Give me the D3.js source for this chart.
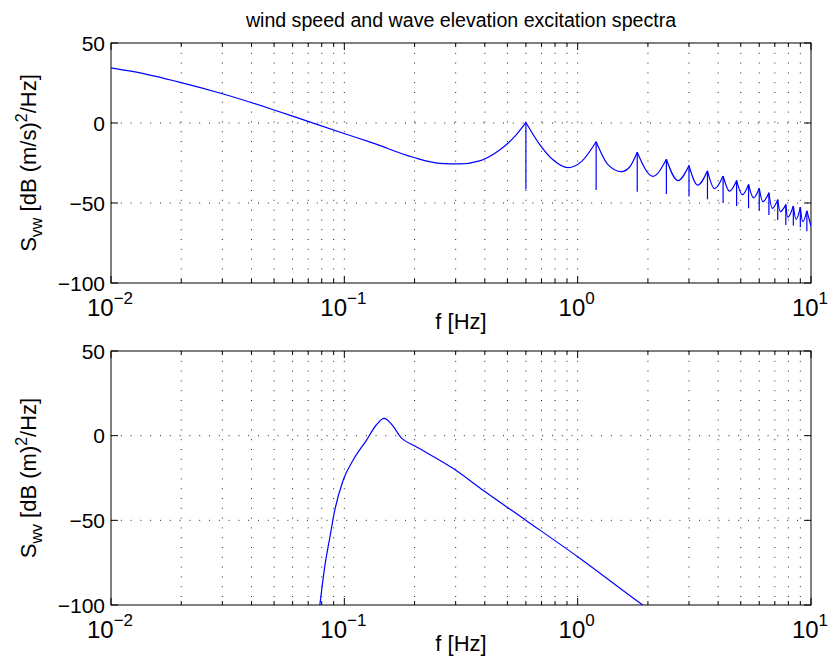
<html>
<head>
    <title>wind speed and wave elevation excitation spectra</title>
    <style>
        body { margin: 0; background: #fff; }
        text { font-family: "Liberation Sans", Arial, Helvetica, sans-serif; fill: #000; }
    </style>
</head>
<body>
    <svg width="829" height="659"></svg>

    <script src="https://cdn.jsdelivr.net/npm/d3@7"></script>
    <script>
        // wind speed spectrum, smooth part (everything that is not a harmonic peak)
        const windFreq = [0.01, 0.0125, 0.0198, 0.0303, 0.0496, 0.0689, 0.099, 0.133, 0.197, 0.257, 0.312, 0.38, 0.463, 0.528,
                          0.688, 0.784, 0.909, 1.04,
                          1.349, 1.539, 1.67,
                          2.10, 2.69, 3.27, 3.86, 4.48, 5.08, 5.67, 6.22, 6.82, 7.38, 7.95, 8.64, 9.22, 10];
        const windDb = [34.5, 32.1, 25.4, 18.1, 8.3, 1.3, -6.4, -12.6, -21.4, -25.2, -25.6, -23.7, -16.9, -9.6,
                        -13.5, -23, -27.9, -24,
                        -26, -30.4, -27.5,
                        -33.3, -36, -38.8, -41, -42.6, -44.8, -46.8, -49.2, -53.3, -55.4, -59, -60.2, -61.7, -64.4];

        // harmonic peaks of the wind spectrum and the one-sample dips under them
        const peakFreq = [0.6, 1.2, 1.8, 2.4, 3.0, 3.6, 4.2, 4.8, 5.4, 6.0, 6.6, 7.2, 7.8, 8.4, 9.0, 9.6];
        const peakDb = [0.3, -11.7, -18.3, -22.7, -26.6, -29.9, -33.1, -36, -38.4, -40.8, -43.6, -47.9, -51, -51.9, -52.6, -54.9];
        const dipDb = [-41.5, -41.9, -42.9, -44.4, -46, -47.7, -50, -51.9, -53.3, -54.9, -57.5, -60.6, -63.7, -64, -65.2, -67.6];

        // wave elevation spectrum
        const waveFreq = [0.072, 0.0785, 0.0825, 0.0867, 0.091, 0.099, 0.109, 0.1245, 0.137, 0.148, 0.159, 0.176, 0.2, 0.292, 0.4, 0.603, 1.0, 1.9, 2.1];
        const waveDb = [-140, -100, -77, -60, -44, -26, -14.5, -2.6, 6.3, 10.2, 6.9, -1.5, -6, -19.3, -33, -50.2, -71.5, -100, -104.3];

        const xTicks = [0.01, 0.1, 1, 10];
        const xTickExp = ["\u22122", "\u22121", "0", "1"];
        const yTicks = [50, 0, -50, -100];

        const svg = d3.select("svg");
        const left = 111, right = 811;

        svg.append("text")
            .attr("x", (left + right) / 2).attr("y", 27)
            .attr("text-anchor", "middle")
            .style("font-size", "19.6px")
            .text("wind speed and wave elevation excitation spectra");

        // minor + major positions for the log grid
        let logGrid = [];
        for (let e = -2; e < 1; e++)
            for (let m = 1; m < 10; m++) logGrid.push(m * Math.pow(10, e));
        logGrid.push(10);

        function makePanel(id, top, bottom, sub, unit) {
            const x = d3.scaleLog().domain([0.01, 10]).range([left, right]);
            const y = d3.scaleLinear().domain([-100, 50]).range([bottom, top]);
            const g = svg.append("g");

            g.append("clipPath").attr("id", "clip" + id)
                .append("rect").attr("x", left).attr("y", top)
                .attr("width", right - left).attr("height", bottom - top);

            // dotted grid
            g.selectAll(".vg").data(logGrid.filter(d => d > 0.01 && d < 10)).enter()
                .append("line")
                .attr("x1", d => x(d)).attr("x2", d => x(d))
                .attr("y1", top).attr("y2", bottom)
                .attr("stroke", "#222").attr("stroke-width", 1)
                .attr("stroke-dasharray", "1,8.8");
            g.selectAll(".hg").data(yTicks.filter(d => d > -100 && d < 50)).enter()
                .append("line")
                .attr("x1", left).attr("x2", right)
                .attr("y1", d => y(d)).attr("y2", d => y(d))
                .attr("stroke", "#222").attr("stroke-width", 1)
                .attr("stroke-dasharray", "1,8.8");

            // inward ticks, bottom/top and left/right
            logGrid.forEach(d => {
                const len = xTicks.includes(d) ? 7 : 4;
                g.append("line").attr("x1", x(d)).attr("x2", x(d))
                    .attr("y1", bottom).attr("y2", bottom - len).attr("stroke", "#000");
                g.append("line").attr("x1", x(d)).attr("x2", x(d))
                    .attr("y1", top).attr("y2", top + len).attr("stroke", "#000");
            });
            yTicks.forEach(d => {
                g.append("line").attr("x1", left).attr("x2", left + 7)
                    .attr("y1", y(d)).attr("y2", y(d)).attr("stroke", "#000");
                g.append("line").attr("x1", right).attr("x2", right - 7)
                    .attr("y1", y(d)).attr("y2", y(d)).attr("stroke", "#000");
            });

            g.append("rect").attr("x", left).attr("y", top)
                .attr("width", right - left).attr("height", bottom - top)
                .attr("fill", "none").attr("stroke", "#000").attr("stroke-width", 1);

            // tick labels
            g.selectAll(".yl").data(yTicks).enter()
                .append("text")
                .attr("x", left - 6).attr("y", d => y(d))
                .attr("dy", "0.36em")
                .attr("text-anchor", "end")
                .style("font-size", "21px")
                .text(d => d < 0 ? "\u2212" + Math.abs(d) : d);

            xTicks.forEach((d, i) => {
                const t = g.append("text")
                    .attr("x", x(d) - 1).attr("y", bottom + 33)
                    .attr("text-anchor", "middle")
                    .style("font-size", "24px");
                t.append("tspan").text("10");
                t.append("tspan").attr("dy", -12).style("font-size", "17px").text(xTickExp[i]);
            });

            g.append("text")
                .attr("x", (left + right) / 2).attr("y", bottom + 46)
                .attr("text-anchor", "middle")
                .style("font-size", "22px")
                .text("f [Hz]");

            const yl = g.append("text")
                .attr("transform", "translate(36," + ((top + bottom) / 2) + ") rotate(-90)")
                .attr("text-anchor", "middle")
                .style("font-size", "22px");
            yl.append("tspan").text("S");
            yl.append("tspan").attr("dy", 6).style("font-size", "16px").text(sub);
            yl.append("tspan").attr("dy", -6).text(" [dB " + unit + ")");
            yl.append("tspan").attr("dy", -9).style("font-size", "16px").text("2");
            yl.append("tspan").attr("dy", 9).text("/Hz]");

            return { x, y, g };
        }

        // wind panel
        const p1 = makePanel(1, 43, 283, "vw", "(m/s");
        const all = windFreq.map((f, i) => ({ f: f, v: windDb[i], peak: false }))
            .concat(peakFreq.map((f, i) => ({ f: f, v: peakDb[i], peak: true })))
            .sort((a, b) => a.f - b.f);
        // break the curve at every peak so the peaks stay sharp cusps
        let segs = [[]];
        all.forEach(d => {
            segs[segs.length - 1].push(d);
            if (d.peak) segs.push([d]);
        });
        const line1 = d3.line().x(d => p1.x(d.f)).y(d => p1.y(d.v)).curve(d3.curveMonotoneX);
        const c1 = p1.g.append("g").attr("clip-path", "url(#clip1)");
        c1.selectAll(".seg").data(segs.filter(s => s.length > 1)).enter()
            .append("path")
            .attr("d", line1)
            .attr("fill", "none").attr("stroke", "#0000ff").attr("stroke-width", 1.2);
        c1.selectAll(".dip").data(peakFreq).enter()
            .append("line")
            .attr("x1", d => p1.x(d)).attr("x2", d => p1.x(d))
            .attr("y1", (d, i) => p1.y(peakDb[i])).attr("y2", (d, i) => p1.y(dipDb[i]))
            .attr("stroke", "#0000ff").attr("stroke-width", 1.2);

        // wave panel
        const p2 = makePanel(2, 351, 605, "wv", "(m");
        const line2 = d3.line().x(d => p2.x(d.f)).y(d => p2.y(d.v)).curve(d3.curveMonotoneX);
        p2.g.append("g").attr("clip-path", "url(#clip2)")
            .append("path")
            .datum(waveFreq.map((f, i) => ({ f: f, v: waveDb[i] })))
            .attr("d", line2)
            .attr("fill", "none").attr("stroke", "#0000ff").attr("stroke-width", 1.2);
    </script>
</body>
</html>
